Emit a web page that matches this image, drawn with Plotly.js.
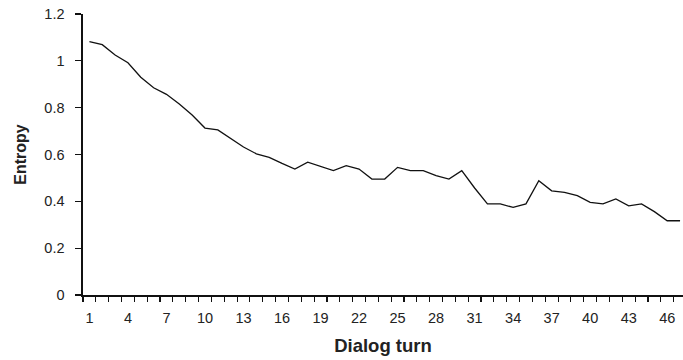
<!DOCTYPE html>
<html>
<head>
<meta charset="utf-8">
<script src="https://cdn.plot.ly/plotly-3.0.1.min.js"></script>
<style>html,body{margin:0;padding:0;background:#fff;}#chart{width:683px;height:360px;}</style>
</head>
<body>
<div id="chart"></div>
<script>
var turns = [];
for (var i = 1; i <= 47; i++) turns.push(i);
var entropy = [1.082, 1.069, 1.025, 0.992, 0.93, 0.885, 0.857, 0.816, 0.769, 0.713,
  0.705, 0.67, 0.632, 0.603, 0.588, 0.562, 0.538, 0.567, 0.549, 0.531,
  0.552, 0.538, 0.495, 0.495, 0.545, 0.531, 0.531, 0.51, 0.495, 0.531,
  0.457, 0.389, 0.389, 0.374, 0.389, 0.488, 0.445, 0.438, 0.424, 0.396,
  0.389, 0.41, 0.381, 0.389, 0.356, 0.317, 0.317];
var xTickVals = [1, 4, 7, 10, 13, 16, 19, 22, 25, 28, 31, 34, 37, 40, 43, 46];
var xTickText = ["1","4","7","10","13","16","19","22","25","28","31","34","37","40","43","46"];
var yTickVals = [0, 0.2, 0.4, 0.6, 0.8, 1, 1.2];
var yTickText = ["0","0.2","0.4","0.6","0.8","1","1.2"];

var fontFam = 'Liberation Sans, Arial, sans-serif';
Plotly.newPlot('chart', [{
  x: turns, y: entropy, type: 'scatter', mode: 'lines',
  line: {color: '#111', width: 1.3}, hoverinfo: 'skip'
}], {
  width: 683, height: 360,
  margin: {l: 83, r: 0, t: 14, b: 65},
  paper_bgcolor: '#fff', plot_bgcolor: '#fff',
  showlegend: false,
  font: {family: fontFam, size: 14, color: '#222'},
  xaxis: {
    range: [0.5, 47.23], showgrid: false, zeroline: false,
    showline: true, linecolor: '#111', linewidth: 1.6,
    tickmode: 'array', tickvals: xTickVals, ticktext: xTickText,
    ticks: '', ticklen: 0, ticklabelstandoff: 9,
    minor: {ticks: 'outside', tick0: 0.5, dtick: 1, ticklen: 5, tickcolor: '#111', tickwidth: 1.1, showgrid: false},
    tickfont: {size: 14.5, color: '#222'},
    title: {text: '<b>Dialog turn</b>', font: {size: 18.5, color: '#222'}, standoff: 14}
  },
  yaxis: {
    range: [0, 1.2], showgrid: false, zeroline: false,
    showline: true, linecolor: '#111', linewidth: 1.6,
    tickmode: 'array', tickvals: yTickVals, ticktext: yTickText,
    ticks: 'outside', ticklen: 6, tickcolor: '#111', tickwidth: 1.3,
    ticklabelstandoff: 8,
    tickfont: {size: 14.5, color: '#222'},
    title: {text: '<b>Entropy</b>', font: {size: 16, color: '#222'}, standoff: 14}
  }
}, {staticPlot: true});
</script>
</body>
</html>
